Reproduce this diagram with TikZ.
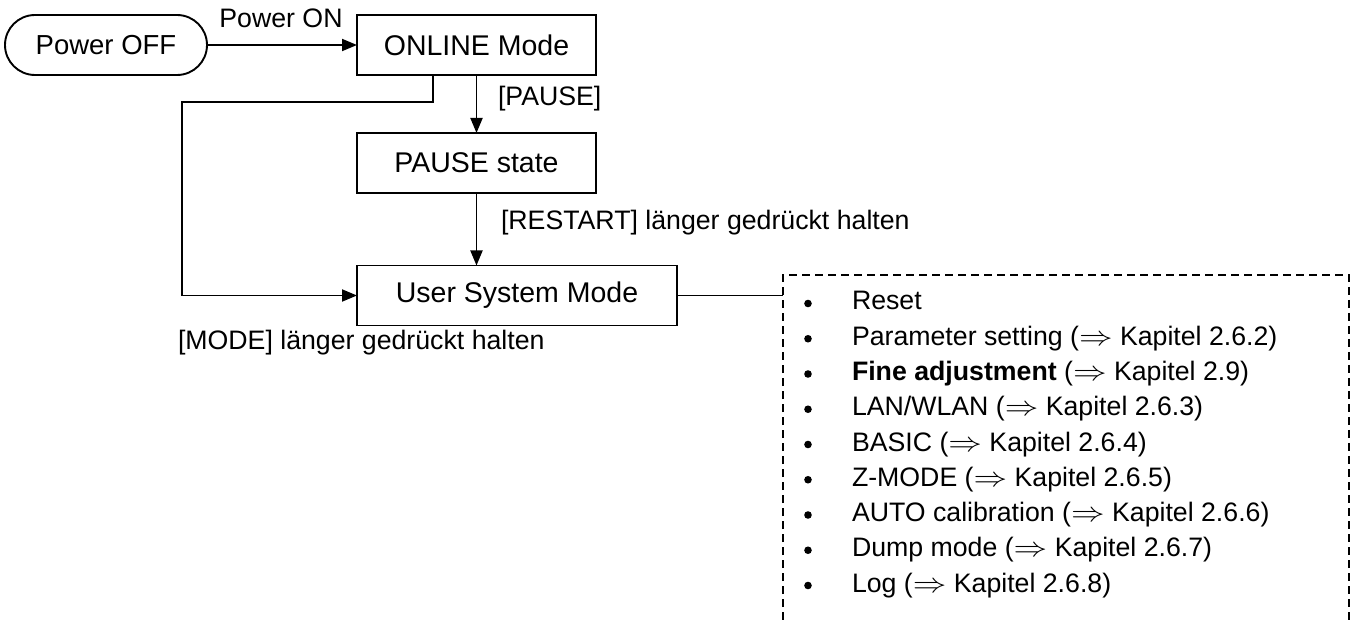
\documentclass[tikz,border=0pt]{standalone}
\usepackage{fontspec}
\setmainfont{Liberation Sans}
\usetikzlibrary{arrows.meta}
\newcommand{\dra}{\scalebox{1.35}[1.1]{$\Rightarrow$}}
\begin{document}
\begin{tikzpicture}[x=1pt,y=-1pt,
  every node/.style={font=\fontsize{26.7}{32}\selectfont, inner sep=0pt, outer sep=0pt},
  ln/.style={line width=1.9pt},
  arr/.style={ln, -{Triangle[length=15pt,width=12pt]}},
  box/.style={draw, ln, minimum width=239pt, minimum height=60pt, font=\fontsize{28.5}{34}\selectfont},
  pill/.style={draw, ln, rounded corners=30pt, minimum width=202pt, minimum height=60pt, font=\fontsize{27.5}{33}\selectfont},
  dashbox/.style={ln, dash pattern=on 8pt off 5pt},
  itemtext/.style={anchor=base west},
  lbl/.style={anchor=base west}]
\useasboundingbox (0,0) rectangle (1358,620);

\node[pill] (off) at (106,45) {Power OFF};
\node[box] (online) at (476.5,45) {ONLINE Mode};
\node[box] (pause) at (476.5,163) {PAUSE state};
\node[box, minimum width=320pt] (user) at (517,295.5) {User System Mode};

\draw[arr] (off) -- (online);
\node[anchor=base] (pon) at (281,28) {Power ON};

\draw[arr] (online) -- (pause);
\node[lbl] (lpause) at (498,106) {[PAUSE]};

\draw[arr] (pause) -- (pause |- user.north);
\node[lbl] (lrestart) at (501,230) {[RESTART] länger gedrückt halten};

\coordinate (k1) at (433,102);
\coordinate (k2) at (182,102);
\draw[arr] (online.south -| k1) -- (k1) -- (k2) |- (user.west);
\node[lbl] (lmode) at (178,350) {[MODE] länger gedrückt halten};

\coordinate (lst) at (783,295.5);
\coordinate (blt) at (783,620);
\coordinate (tl) at (783,275);
\coordinate (tr) at (1349,275);
\coordinate (br) at (1349,620);
\draw[ln] (user.east) -- (lst);
\draw[dashbox] (blt) -- (tl) -- (tr) -- (br);

\foreach \yy in {0,...,8} {
  \fill (808,{310+35.25*\yy-6.5}) circle (3.8pt);
}
\node[itemtext] (i1) at (852,310) {Reset};
\node[itemtext] (i2) at (852,345.25) {Parameter setting (\dra{} Kapitel 2.6.2)};
\node[itemtext] (i3) at (852,380.5) {\textbf{Fine adjustment} (\dra{} Kapitel 2.9)};
\node[itemtext] (i4) at (852,415.75) {LAN/WLAN (\dra{} Kapitel 2.6.3)};
\node[itemtext] (i5) at (852,451) {BASIC (\dra{} Kapitel 2.6.4)};
\node[itemtext] (i6) at (852,486.25) {Z-MODE (\dra{} Kapitel 2.6.5)};
\node[itemtext] (i7) at (852,521.5) {AUTO calibration (\dra{} Kapitel 2.6.6)};
\node[itemtext] (i8) at (852,556.75) {Dump mode (\dra{} Kapitel 2.6.7)};
\node[itemtext] (i9) at (852,592) {Log (\dra{} Kapitel 2.6.8)};
\end{tikzpicture}
\end{document}
